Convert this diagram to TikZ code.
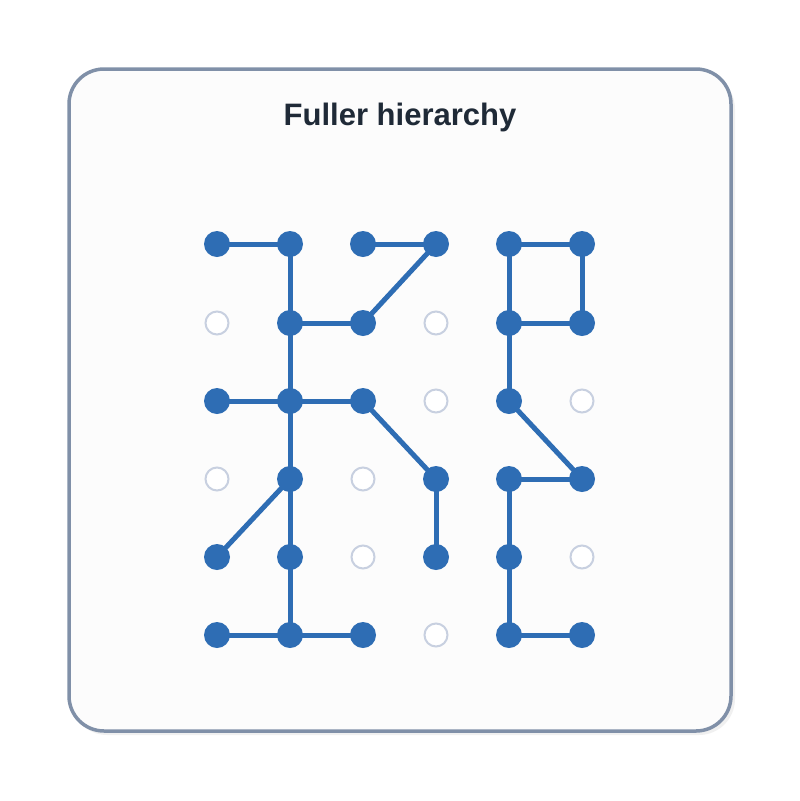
\documentclass[tikz,border=0pt]{standalone}
\usepackage{fontspec}
\setmainfont{Liberation Sans}
\definecolor{blu}{HTML}{2E6DB4}
\definecolor{emp}{HTML}{C8D0E0}
\definecolor{frm}{HTML}{8090A8}
\definecolor{ttl}{HTML}{1F2A37}
\definecolor{bg}{HTML}{FCFCFC}
\begin{document}
\begin{tikzpicture}[x=1pt,y=-1pt,
 on/.style={circle,fill=blu,minimum size=26pt,inner sep=0pt},
 off/.style={circle,draw=emp,line width=2pt,fill=white,minimum size=23pt,inner sep=0pt},
 ed/.style={draw=blu,line width=5pt}]
\useasboundingbox (0,0) rectangle (800,801);
\fill[black!6,rounded corners=36pt] (71,73) rectangle (735,735);
\draw[frm,line width=3.5pt,fill=bg,rounded corners=35pt] (69,69) rectangle (731,731);
\node[font=\bfseries\fontsize{31}{36}\selectfont,text=ttl] (title) at (400,117) {Fuller hierarchy};
\def\xs{{217,290,363,436,509,582}}
\def\ys{{244,323,401,479,557,635}}
\foreach \c in {0,...,5}{\foreach \r in {0,...,5}{
 \pgfmathsetmacro\px{\xs[\c]}\pgfmathsetmacro\py{\ys[\r]}
 \coordinate (p\c\r) at (\px,\py);
}}
\foreach \a/\b in {00/10,10/11,11/12,12/13,13/14,14/15,20/30,30/21,11/21,02/12,12/22,22/33,33/34,13/04,05/15,15/25,40/50,50/51,40/41,41/51,41/42,42/53,43/53,43/44,44/45,45/55}
 \draw[ed] (p\a) -- (p\b);
\foreach \c/\r/\s in {0/0/on,1/0/on,2/0/on,3/0/on,4/0/on,5/0/on,
 0/1/off,1/1/on,2/1/on,3/1/off,4/1/on,5/1/on,
 0/2/on,1/2/on,2/2/on,3/2/off,4/2/on,5/2/off,
 0/3/off,1/3/on,2/3/off,3/3/on,4/3/on,5/3/on,
 0/4/on,1/4/on,2/4/off,3/4/on,4/4/on,5/4/off,
 0/5/on,1/5/on,2/5/on,3/5/off,4/5/on,5/5/on}{
 \node[\s] (n\c\r) at (p\c\r) {};
}
\end{tikzpicture}
\end{document}
